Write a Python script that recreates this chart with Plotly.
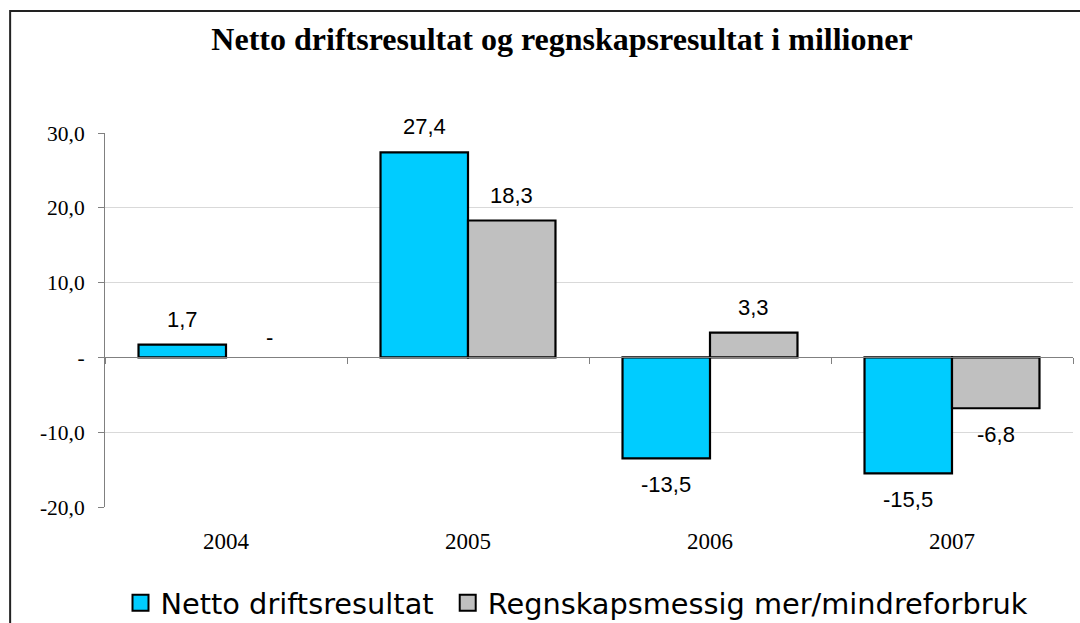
import plotly.graph_objects as go

years = ["2004", "2005", "2006", "2007"]
netto = [1.7, 27.4, -13.5, -15.5]
regnskap = [0.0, 18.3, 3.3, -6.8]
series_names = ["Netto driftsresultat", "Regnskapsmessig mer/mindreforbruk"]
series_colors = ["#00CCFF", "#C0C0C0"]
y_ticks = [-20, -10, 0, 10, 20, 30]
title_text = "Netto driftsresultat og regnskapsresultat i millioner"


def fmt(v):
    return "-" if v == 0 else f"{v:.1f}".replace(".", ",")


BARGAP = 0.277
fig = go.Figure()
all_series = [netto, regnskap]
for name, vals, col in zip(series_names, all_series, series_colors):
    fig.add_trace(go.Bar(
        x=years, y=vals, name=name,
        marker=dict(color=col, line=dict(color="black", width=[0 if v == 0 else 2.2 for v in vals])),
        showlegend=False, hoverinfo="skip"))
# legend proxies (larger square symbols)
for k, (name, col) in enumerate(zip(series_names, series_colors)):
    fig.add_trace(go.Scatter(
        x=[None], y=[None], mode="markers", name=name + ("\u00a0" if k == 0 else ""),
        marker=dict(symbol="square", size=16, color=col, line=dict(color="black", width=2))))
# helper trace for zero-line axis with boundary ticks
fig.add_trace(go.Scatter(x=years, y=[None] * len(years), xaxis="x2", mode="markers",
                         showlegend=False, hoverinfo="skip"))

# data labels
half = (1 - BARGAP) / 4
for s, vals in enumerate(all_series):
    off = -half if s == 0 else half
    for i, v in enumerate(vals):
        pos = v >= 0
        fig.add_annotation(
            x=i + off, y=v, xref="x", yref="y", text=fmt(v), showarrow=False,
            yanchor="bottom" if pos else "top", yshift=(11 if v > 0 else 5) if pos else -12,
            font=dict(family="Liberation Sans, Arial", size=22, color="black"))

# outer frame
fig.add_shape(type="rect", xref="paper", yref="paper", x0=-0.098, x1=1.2, y0=-0.6, y1=1.326,
              line=dict(color="#222222", width=2), fillcolor="rgba(0,0,0,0)", layer="above")

fig.update_layout(
    width=1080, height=623,
    margin=dict(l=105, r=7, t=133, b=116, autoexpand=False),
    paper_bgcolor="white", plot_bgcolor="white",
    barmode="group", bargap=BARGAP, bargroupgap=0,
    title=dict(text=f"<b>{title_text}</b>", x=562 / 1080, xref="container", xanchor="center",
               y=1 - 39 / 623, yref="container", yanchor="middle",
               font=dict(family="Liberation Serif, Times New Roman", size=32, color="black")),
    xaxis=dict(type="category", categoryorder="array", categoryarray=years, range=[-0.5, 3.5],
               showline=False, ticks="", showgrid=False, ticklabelstandoff=18,
               tickfont=dict(family="Liberation Serif, Times New Roman", size=23, color="black")),
    xaxis2=dict(type="category", categoryorder="array", categoryarray=years, range=[-0.5, 3.5],
                overlaying="x", anchor="free", position=0.4, side="bottom",
                showline=True, linecolor="#808080", linewidth=1,
                ticks="outside", tickson="boundaries", ticklen=6, tickcolor="#808080",
                showticklabels=False, showgrid=False),
    yaxis=dict(range=[-20, 30], tickvals=y_ticks, ticktext=[fmt(v) for v in y_ticks],
               showline=True, linecolor="#808080", linewidth=1, ticks="outside", ticklen=6,
               tickcolor="#808080", showgrid=True, gridcolor="#D9D9D9", zeroline=False,
               ticklabelstandoff=9,
               tickfont=dict(family="Liberation Serif, Times New Roman", size=21.5, color="black")),
    legend=dict(orientation="h", x=(577 - 105) / 968, xanchor="center", y=(507 - 603) / 374,
                yanchor="middle",
                font=dict(family="DejaVu Sans", size=28.8, color="black"),
                bgcolor="rgba(0,0,0,0)", itemclick=False),
)

fig.write_html("out.html", config={"displayModeBar": False},
               post_script="document.body.style.margin='0';")
